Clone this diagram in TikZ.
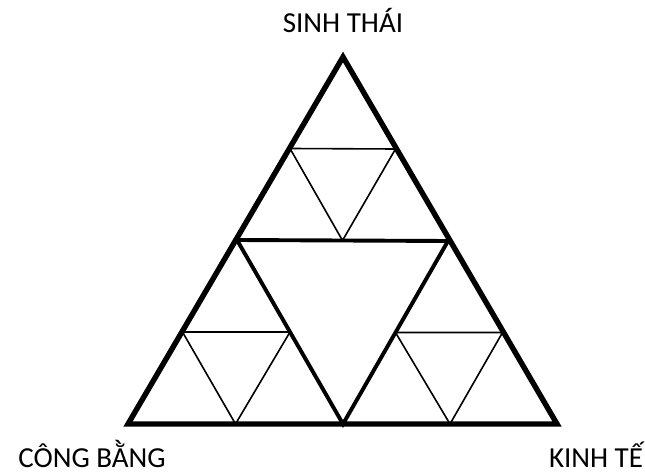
\documentclass[tikz,border=0pt]{standalone}
\usepackage{fontspec}
\setmainfont{Carlito}
\usetikzlibrary{calc}

\newcommand{\subtri}[3]{\draw[inner] ($(#1)!0.5!(#2)$) -- ($(#2)!0.5!(#3)$) -- ($(#3)!0.5!(#1)$) -- cycle;}

\begin{document}
\begin{tikzpicture}[x = 1pt, y = -1pt, line join = miter,
  outer/.style = {line width = 5.4pt},
  medial/.style = {line width = 3.9pt},
  inner/.style = {line width = 1.6pt},
  label/.style = {font = \fontsize{29}{33}\selectfont, anchor = base}]
\useasboundingbox (0,0) rectangle (645,473);
\coordinate (top) at (343,57);
\coordinate (left) at (128,424);
\coordinate (right) at (557,424);
\coordinate (ml) at (237,240);
\coordinate (mr) at (448,241);
\coordinate (mb) at (343,424);
\draw[outer] (top) -- (left) -- (right) -- cycle;
\draw[medial] (ml) -- (mr) -- (mb) -- cycle;
\subtri{top}{ml}{mr}
\subtri{ml}{left}{mb}
\subtri{mr}{mb}{right}
\node[label] (sinhthai) at (343,33) {SINH THÁI};
\node[label] (congbang) at (92,467) {CÔNG BẰNG};
\node[label] (kinhte) at (596,467) {KINH TẾ};
\end{tikzpicture}
\end{document}
